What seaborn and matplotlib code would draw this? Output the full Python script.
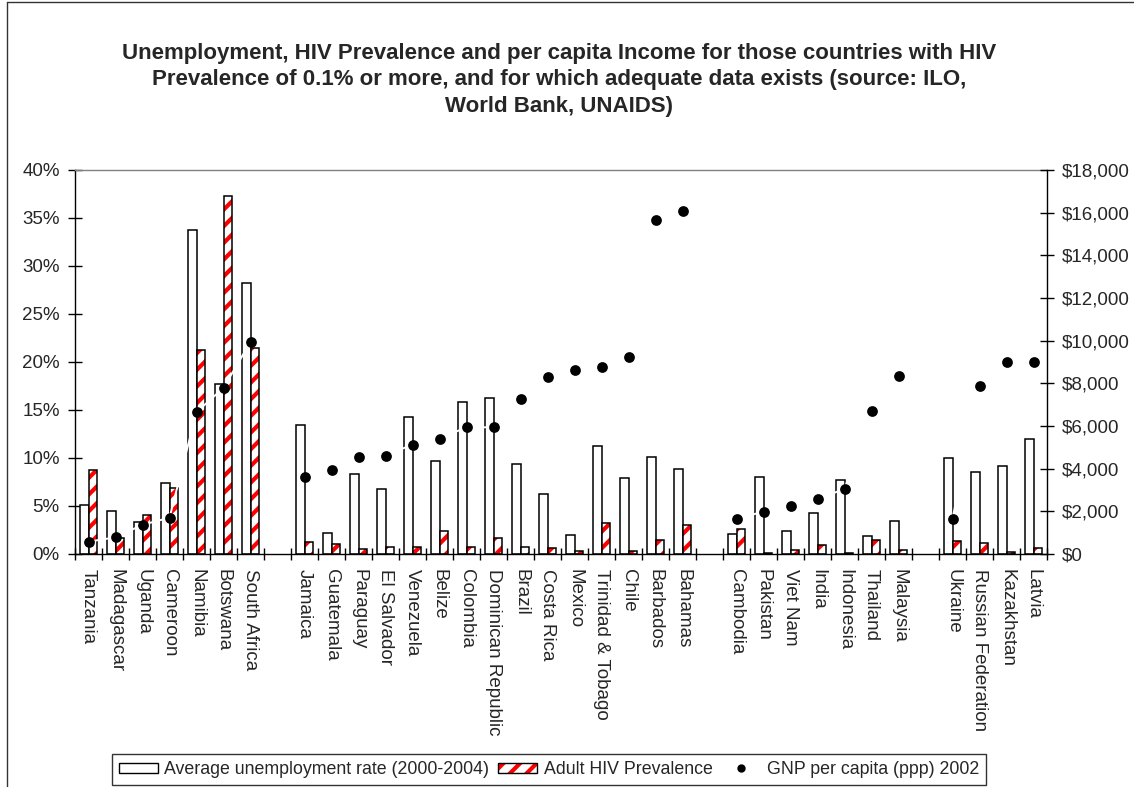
import numpy as np
import pandas as pd
import matplotlib
matplotlib.use("Agg")
import matplotlib.pyplot as plt
import seaborn as sns
from matplotlib.patches import Patch, Rectangle
from matplotlib.lines import Line2D
from matplotlib.legend_handler import HandlerTuple
from matplotlib.ticker import FuncFormatter, MultipleLocator

nan = np.nan

countries = ["Tanzania", "Madagascar", "Uganda", "Cameroon", "Namibia", "Botswana", "South Africa", "",
             "Jamaica", "Guatemala", "Paraguay", "El Salvador", "Venezuela", "Belize", "Colombia",
             "Dominican Republic", "Brazil", "Costa Rica", "Mexico", "Trinidad & Tobago", "Chile",
             "Barbados", "Bahamas", "",
             "Cambodia", "Pakistan", "Viet Nam", "India", "Indonesia", "Thailand", "Malaysia", "",
             "Ukraine", "Russian Federation", "Kazakhstan", "Latvia"]

unemployment = [5.1, 4.5, 3.3, 7.4, 33.7, 17.7, 28.2, nan,
                13.4, 2.2, 8.3, 6.8, 14.3, 9.7, 15.8, 16.2, 9.4, 6.3, 2.0, 11.2, 7.9, 10.1, 8.9, nan,
                2.1, 8.0, 2.4, 4.3, 7.7, 1.9, 3.4, nan,
                10.0, 8.5, 9.2, 12.0]

hiv = [8.8, 1.7, 4.1, 6.9, 21.3, 37.3, 21.5, nan,
       1.2, 1.0, 0.5, 0.7, 0.7, 2.4, 0.7, 1.7, 0.7, 0.6, 0.3, 3.2, 0.3, 1.5, 3.0, nan,
       2.6, 0.1, 0.4, 0.9, 0.1, 1.5, 0.4, nan,
       1.4, 1.1, 0.2, 0.6]

gnp = [580, 780, 1370, 1700, 6650, 7790, 9940, nan,
       3590, 3920, 4530, 4610, 5130, 5410, 5940, 5940, 7280, 8280, 8630, 8750, 9220, 15660, 16060, nan,
       1660, 1980, 2260, 2570, 3050, 6710, 8330, nan,
       1650, 7870, 9000, 9000]

series_names = ["Average unemployment rate (2000-2004)", "Adult HIV Prevalence", "GNP per capita (ppp) 2002"]

title = ("Unemployment, HIV Prevalence and per capita Income for those countries with HIV\n"
         "Prevalence of 0.1% or more, and for which adequate data exists (source: ILO,\n"
         "World Bank, UNAIDS)")

# ---------------------------------------------------------------
sns.set_theme(style="white")
plt.rcParams["font.family"] = ["Liberation Sans", "DejaVu Sans"]
plt.rcParams["hatch.linewidth"] = 3.0

slot_keys = [c if c else "_gap%d" % i for i, c in enumerate(countries)]
rows = []
for k, u, h in zip(slot_keys, unemployment, hiv):
    if not np.isnan(u):
        rows.append({"slot": k, "series": series_names[0], "value": u})
    if not np.isnan(h):
        rows.append({"slot": k, "series": series_names[1], "value": h})
df = pd.DataFrame(rows)

W, H = 1134, 787
fig = plt.figure(figsize=(W / 100, H / 100), dpi=100)
ax = fig.add_axes([75 / W, 1 - 554 / H, (1047 - 75) / W, (554 - 170) / H])

sns.barplot(data=df, x="slot", y="value", hue="series", order=slot_keys,
            hue_order=series_names[:2], palette=["white", "white"], width=0.6, gap=0,
            dodge=True, edgecolor="black", linewidth=1.1, legend=False, ax=ax, zorder=2)

# hatch the HIV bars red, keep a black outline on top
for bar in ax.containers[1]:
    bar.set_edgecolor("red")
    bar.set_linewidth(0)
    bar.set_hatch("//")
    x0, y0 = bar.get_xy()
    ax.add_patch(Rectangle((x0, y0), bar.get_width(), bar.get_height(), fill=False,
                           edgecolor="black", linewidth=1.1, zorder=3))

ax.set_xlim(-0.5, len(countries) - 0.5)
ax.set_ylim(0, 40)
ax.yaxis.set_major_locator(MultipleLocator(5))
ax.yaxis.set_major_formatter(FuncFormatter(lambda v, p: "%d%%" % round(v)))
ax.set_xticks(range(len(countries)))
ax.set_xticklabels(countries, rotation=-90, va="top", ha="center", fontsize=13.5)
ax.set_xticks(np.arange(-0.5, len(countries), 1.0), minor=True)
ax.tick_params(axis="x", which="major", length=0, pad=11)
ax.tick_params(axis="x", which="minor", direction="inout", length=8, width=1, color="black", bottom=True)
ax.tick_params(axis="y", direction="inout", length=10, width=1, color="black", left=True,
               labelsize=13.5, pad=6)
ax.set_xlabel("")
ax.set_ylabel("")
for s in ["left", "bottom"]:
    ax.spines[s].set_color("black")
    ax.spines[s].set_linewidth(1)
ax.spines["top"].set_color("#808080")
ax.spines["top"].set_linewidth(1)
ax.spines["right"].set_visible(False)

ax2 = ax.twinx()
pos = np.arange(len(countries))
ax2.plot(pos, gnp, color="white", linewidth=1.4, zorder=2)
sns.scatterplot(x=pos, y=gnp, color="black", s=60, edgecolor="black", linewidth=0,
                ax=ax2, zorder=3, legend=False)
ax2.set_ylim(0, 18000)
ax2.yaxis.set_major_locator(MultipleLocator(2000))
ax2.yaxis.set_major_formatter(FuncFormatter(lambda v, p: "${:,.0f}".format(v)))
ax2.tick_params(axis="y", direction="inout", length=10, width=1, color="black", right=True,
                labelsize=13.5, pad=6)
ax2.set_ylabel("")
for s in ["left", "top", "bottom"]:
    ax2.spines[s].set_visible(False)
ax2.spines["right"].set_color("black")
ax2.spines["right"].set_linewidth(1)
ax2.grid(False)
ax.grid(False)

fig.text(559 / W, 1 - 80 / H, title, ha="center", va="center", fontsize=16, fontweight="bold",
         linespacing=1.32)

# legend
h_unemp = Patch(facecolor="white", edgecolor="black", linewidth=1)
h_hiv = (Patch(facecolor="white", edgecolor="red", hatch="//", linewidth=0),
         Patch(facecolor="none", edgecolor="black", linewidth=1))
h_gnp = Line2D([], [], marker="o", color="black", linestyle="none", markersize=5)
leg = fig.legend([h_unemp, h_hiv, h_gnp], series_names, loc="lower left",
                 bbox_to_anchor=(112 / W, 2 / H), ncol=3, frameon=True, fancybox=False,
                 fontsize=12.8, handlelength=2.2, handleheight=0.5, handletextpad=0.35,
                 columnspacing=0.5, borderpad=0.4, borderaxespad=0,
                 handler_map={tuple: HandlerTuple(ndivide=1, pad=0)})
leg.get_frame().set_edgecolor("black")
leg.get_frame().set_linewidth(1)

# outer chart border (left and top visible)
fig.add_artist(Line2D([7 / W, 7 / W], [0, 1 - 2 / H], transform=fig.transFigure, color="#333333", lw=1))
fig.add_artist(Line2D([7 / W, 1], [1 - 2 / H, 1 - 2 / H], transform=fig.transFigure, color="#333333", lw=1))

fig.savefig("out.png", dpi=100)
